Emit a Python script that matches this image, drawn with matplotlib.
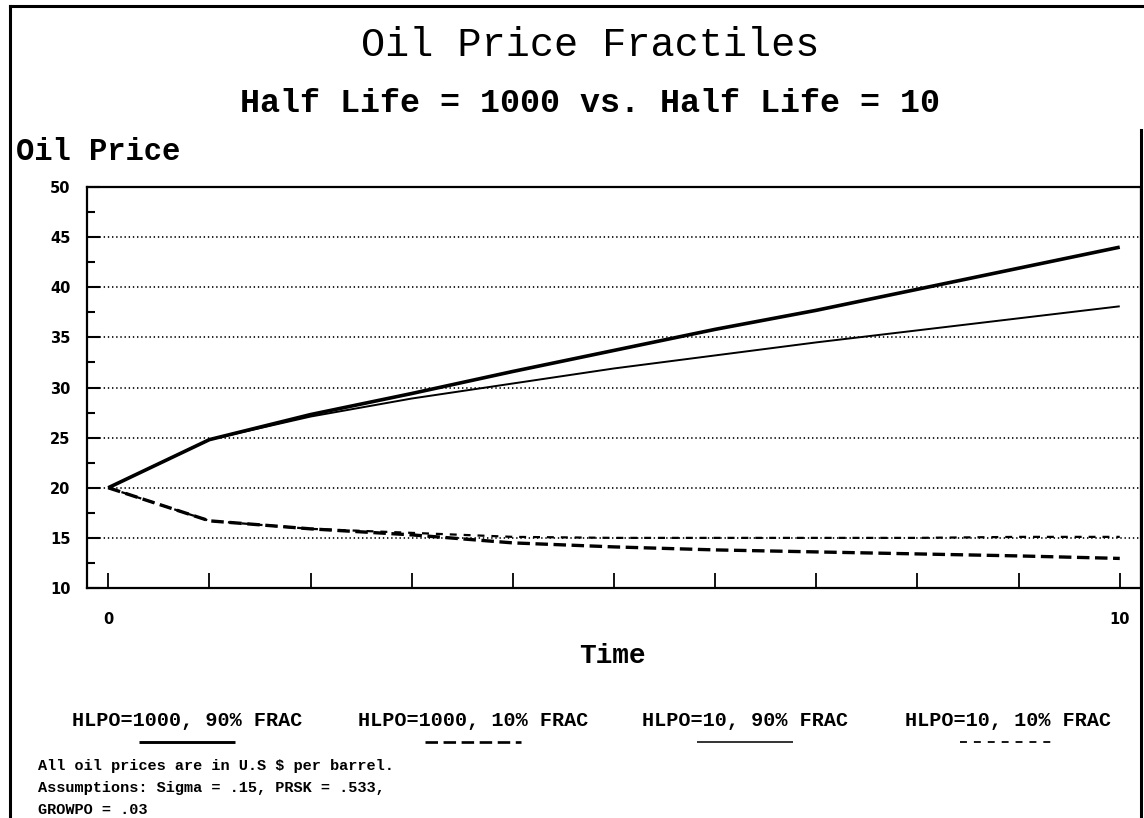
import matplotlib
matplotlib.use("Agg")
import matplotlib.pyplot as plt
from matplotlib.lines import Line2D

plt.rcParams['lines.scale_dashes'] = False

# ---- data ----
time = [0, 1, 2, 3, 4, 5, 6, 7, 8, 9, 10]
hl1000_p90 = [20, 24.8, 27.3, 29.4, 31.6, 33.7, 35.8, 37.7, 39.8, 41.9, 44.0]
hl1000_p10 = [20, 16.7, 15.9, 15.3, 14.5, 14.1, 13.8, 13.6, 13.4, 13.2, 12.95]
hl10_p90 = [20, 24.8, 27.1, 28.9, 30.4, 31.9, 33.2, 34.5, 35.7, 36.9, 38.1]
hl10_p10 = [20, 16.7, 15.9, 15.5, 15.1, 15.0, 15.0, 15.0, 15.0, 15.1, 15.1]
series_labels = ["HLPO=1000, 90% FRAC", "HLPO=1000, 10% FRAC",
                 "HLPO=10, 90% FRAC", "HLPO=10, 10% FRAC"]
y_ticks = [10, 15, 20, 25, 30, 35, 40, 45, 50]
x_tick_labels = ["0", "", "", "", "", "", "", "", "", "", "10"]
notes = ["All oil prices are in U.S $ per barrel.",
         "Assumptions: Sigma = .15, PRSK = .533,",
         "GROWPO = .03"]

W, H = 1144, 818
fig = plt.figure(figsize=(W / 100, H / 100), dpi=100)

def fx(px):
    return px / W

def fy(py):
    return 1 - py / H

MONO = "Liberation Mono"

# figure border
fig.add_artist(Line2D([fx(10), fx(10)], [fy(6), 0], color="black", lw=2.2))
fig.add_artist(Line2D([fx(10), fx(1142)], [fy(6), fy(6)], color="black", lw=2.2))
fig.add_artist(Line2D([fx(1141), fx(1141)], [fy(130), 0], color="black", lw=2.2))

# titles
fig.text(fx(590), fy(45), "Oil Price Fractiles", family=MONO, fontsize=29,
         ha="center", va="center")
fig.text(fx(590), fy(104), "Half Life = 1000 vs. Half Life = 10", family=MONO,
         fontsize=24, fontweight="bold", ha="center", va="center")
fig.text(fx(16), fy(152), "Oil Price", family=MONO, fontsize=22,
         fontweight="bold", ha="left", va="center")

# axes
ax = fig.add_axes([fx(87), fy(588), fx(1141) - fx(87), fy(187) - fy(588)])
styles = [
    dict(lw=2.6, ls="-"),
    dict(lw=2.4, ls=(0, (9, 4))),
    dict(lw=1.4, ls="-"),
    dict(lw=1.6, ls=(0, (5, 5))),
]
series = [hl1000_p90, hl1000_p10, hl10_p90, hl10_p10]
for s, st in zip(series, styles):
    ax.plot(time, s, color="black", solid_capstyle="butt", **st)

ax.set_xlim(-0.21, 10.21)
ax.set_ylim(10, 50)
ax.set_yticks(y_ticks)
ax.set_yticks([12.5, 17.5, 22.5, 27.5, 32.5, 37.5, 42.5, 47.5], minor=True)
ax.set_xticks(time)
ax.set_xticklabels(x_tick_labels)
ax.grid(axis="y", which="major", color="black", ls=(0, (1, 2)), lw=1.2)
ax.tick_params(axis="y", which="major", direction="in", length=9, width=1.5,
               pad=12)
ax.tick_params(axis="y", which="minor", direction="in", length=6, width=1.5)
ax.tick_params(axis="x", which="major", direction="in", length=11, width=1.3,
               pad=17)
for lab in ax.get_yticklabels() + ax.get_xticklabels():
    lab.set_fontfamily("DejaVu Sans")
    lab.set_fontweight("bold")
    lab.set_fontsize(10.5)
for sp in ax.spines.values():
    sp.set_linewidth(1.6)

fig.text(fx(612), fy(656), "Time", family=MONO, fontsize=20,
         fontweight="bold", ha="center", va="center")

# legend
centers = [187, 473, 745, 1008]
for c, lab, st in zip(centers, series_labels, styles):
    fig.text(fx(c), fy(721), lab, family=MONO, fontsize=14.5,
             fontweight="bold", ha="center", va="center")
    fig.add_artist(Line2D([fx(c - 48), fx(c + 48)], [fy(742), fy(742)],
                          color="black", solid_capstyle="butt",
                          lw=st["lw"] * 0.8, ls=st["ls"]))

for i, n in enumerate(notes):
    fig.text(fx(38), fy(766 + 22 * i), n, family=MONO, fontsize=11,
             fontweight="bold", ha="left", va="center")

fig.savefig("out.png", dpi=100, facecolor="white")
